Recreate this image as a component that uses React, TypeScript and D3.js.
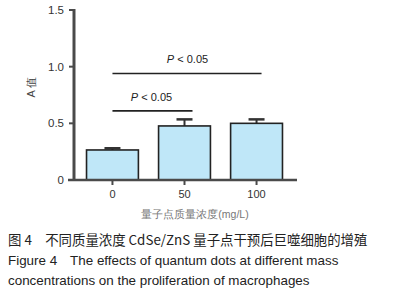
import React from "react";
import * as d3 from "d3";

const categories = ["0", "50", "100"];
const means = [0.265, 0.477, 0.5];
const errs = [0.015, 0.058, 0.035];
const yTicks = [0, 0.5, 1.0, 1.5];
const yTickLabels = ["0", "0.5", "1.0", "1.5"];
const sigPairs = [
  { from: "0", to: "50", y: 0.61, label: "P < 0.05" },
  { from: "0", to: "100", y: 0.94, label: "P < 0.05" },
];
const yLabel = "A 值";
const xLabel = "量子点质量浓度(mg/L)";
const captionLines = [
  "图 4　不同质量浓度 CdSe/ZnS 量子点干预后巨噬细胞的增殖",
  "Figure 4　The effects of quantum dots at different mass",
  "concentrations on the proliferation of macrophages",
];

export default function App() {
  const W = 395, H = 300;
  const x0 = 74, x1 = 297;
  const y = d3.scaleLinear().domain([0, 1.5]).range([180, 10]);
  const x = d3.scaleBand().domain(categories).range([x0 + 1, x1 - 3]).paddingInner(0.28).paddingOuter(0.16);
  const cx = (c: string) => (x(c) as number) + x.bandwidth() / 2;
  const font = "'Liberation Sans', Arial, sans-serif";
  const axisColor = "#4a4a4a";
  return (
    <svg width={W} height={H} style={{ position: "absolute", left: 0, top: 0, background: "#fff" }}>
      {categories.map((c, i) => (
        <g key={c}>
          <line x1={cx(c)} x2={cx(c)} y1={y(means[i])} y2={y(means[i] + errs[i])} stroke="#333" strokeWidth={2} />
          <line x1={cx(c) - 8} x2={cx(c) + 8} y1={y(means[i] + errs[i])} y2={y(means[i] + errs[i])} stroke="#333" strokeWidth={2.5} />
          <rect x={x(c)} y={y(means[i])} width={x.bandwidth()} height={y(0) - y(means[i])} fill="#bfe7f8" stroke="#222" strokeWidth={1.6} />
          <line x1={cx(c)} x2={cx(c)} y1={y(0)} y2={y(0) + 5} stroke={axisColor} strokeWidth={2} />
          <text x={cx(c)} y={y(0) + 18} textAnchor="middle" fontFamily={font} fontSize={11} fill="#333">{c}</text>
        </g>
      ))}
      <line x1={x0} x2={x0} y1={y(1.5) - 1} y2={y(0)} stroke={axisColor} strokeWidth={3} />
      <line x1={x0 - 6} x2={x1} y1={y(0)} y2={y(0)} stroke={axisColor} strokeWidth={2.5} />
      {yTicks.map((t, i) => (
        <g key={t}>
          <line x1={x0 - 5} x2={x0} y1={y(t)} y2={y(t)} stroke={axisColor} strokeWidth={2} />
          <text x={x0 - 10} y={y(t) + 4} textAnchor="end" fontFamily={font} fontSize={11.5} fill="#333">{yTickLabels[i]}</text>
        </g>
      ))}
      <text transform={`translate(35,${y(0.82)}) rotate(-90)`} textAnchor="middle" fontFamily={font} fontSize={11} fill="#444">{yLabel}</text>
      {sigPairs.map((s, i) => (
        <g key={i}>
          <line x1={cx(s.from)} x2={cx(s.to) + (s.to === "50" ? 8 : 5)} y1={y(s.y)} y2={y(s.y)} stroke="#222" strokeWidth={1.6} />
          <text x={(cx(s.from) + cx(s.to)) / 2 + 3} y={y(s.y) - 10} textAnchor="middle" fontFamily={font} fontSize={11} fill="#222">
            <tspan fontStyle="italic">P</tspan> &lt; 0.05
          </text>
        </g>
      ))}
      <text x={195} y={218} textAnchor="middle" fontFamily={font} fontSize={10.5} fill="#777">{xLabel}</text>
      {captionLines.map((l, i) => (
        <text key={i} x={8} y={245 + i * 20} fontFamily={i === 0 ? "'Noto Sans CJK SC', sans-serif" : font} fontSize={13.4} fill="#222">{l}</text>
      ))}
    </svg>
  );
}
